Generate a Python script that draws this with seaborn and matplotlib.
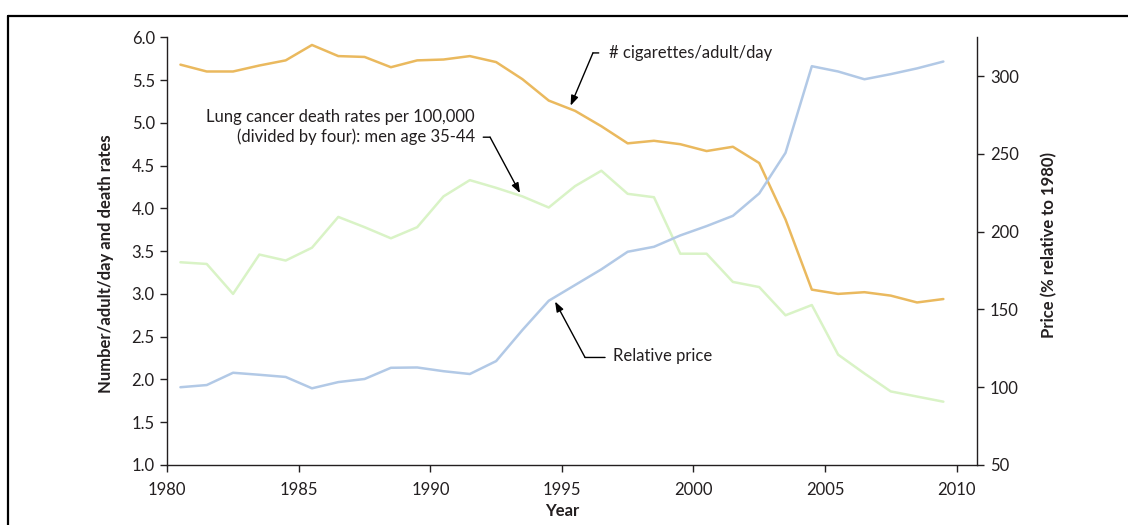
import matplotlib
matplotlib.use("Agg")
import matplotlib.pyplot as plt
from matplotlib.lines import Line2D
from matplotlib.ticker import FormatStrFormatter
import seaborn as sns
import pandas as pd

years = [1980.5, 1981.5, 1982.5, 1983.5, 1984.5, 1985.5, 1986.5, 1987.5, 1988.5, 1989.5,
         1990.5, 1991.5, 1992.5, 1993.5, 1994.5, 1995.5, 1996.5, 1997.5, 1998.5, 1999.5,
         2000.5, 2001.5, 2002.5, 2003.5, 2004.5, 2005.5, 2006.5, 2007.5, 2008.5, 2009.5]
cigarettes = [5.68, 5.60, 5.60, 5.67, 5.73, 5.91, 5.78, 5.77, 5.65, 5.73,
              5.74, 5.78, 5.71, 5.51, 5.26, 5.14, 4.96, 4.76, 4.79, 4.75,
              4.67, 4.72, 4.53, 3.87, 3.05, 3.00, 3.02, 2.98, 2.90, 2.94]
lung_cancer = [3.37, 3.35, 3.00, 3.46, 3.39, 3.54, 3.90, 3.78, 3.65, 3.78,
               4.14, 4.33, 4.24, 4.14, 4.01, 4.26, 4.44, 4.17, 4.13, 3.47,
               3.47, 3.14, 3.08, 2.75, 2.87, 2.29, 2.07, 1.86, 1.80, 1.74]
price = [100.0, 101.4, 109.3, 108.0, 106.6, 99.3, 103.3, 105.3, 112.5, 112.7,
         110.3, 108.5, 116.8, 136.8, 155.6, 165.7, 175.8, 187.1, 190.3, 197.6,
         203.6, 210.2, 224.6, 250.7, 306.4, 303.0, 298.0, 301.3, 305.0, 309.4]

x_ticks = [1980, 1985, 1990, 1995, 2000, 2005, 2010]
left_ticks = [1.0, 1.5, 2.0, 2.5, 3.0, 3.5, 4.0, 4.5, 5.0, 5.5, 6.0]
right_ticks = [50, 100, 150, 200, 250, 300]

label_cig = "# cigarettes/adult/day"
label_lung = "Lung cancer death rates per 100,000\n(divided by four): men age 35-44"
label_price = "Relative price"

df = pd.DataFrame({"year": years, "cig": cigarettes, "lung": lung_cancer, "price": price})

sns.set_style("ticks")
plt.rcParams["font.family"] = ["Lato", "DejaVu Sans"]
text_color = "#231F20"
plt.rcParams["text.color"] = text_color
plt.rcParams["axes.labelcolor"] = text_color
plt.rcParams["xtick.color"] = text_color
plt.rcParams["ytick.color"] = text_color

FS = 12
ORANGE = "#EAB95E"
GREEN = "#D9F3C6"
BLUE = "#B2C9E6"

fig = plt.figure(figsize=(11.28, 5.25), dpi=100)
ax = fig.add_axes([0.1483, 0.1143, 0.8664 - 0.1483, 0.929 - 0.1143])
ax2 = ax.twinx()

sns.lineplot(data=df, x="year", y="lung", ax=ax, color=GREEN, linewidth=1.8)
sns.lineplot(data=df, x="year", y="cig", ax=ax, color=ORANGE, linewidth=1.8)
sns.lineplot(data=df, x="year", y="price", ax=ax2, color=BLUE, linewidth=1.8)

ax.set_xlim(1980, 2010.79)
ax.set_ylim(1.0, 6.0)
ax2.set_ylim(50, 325)
ax.set_xticks(x_ticks)
ax.set_yticks(left_ticks)
ax2.set_yticks(right_ticks)
ax.yaxis.set_major_formatter(FormatStrFormatter("%.1f"))

for a in (ax, ax2):
    a.spines["top"].set_visible(False)
    for s in a.spines.values():
        s.set_color(text_color)
        s.set_linewidth(1.0)
    a.tick_params(direction="out", length=5, width=1.0, labelsize=FS, colors=text_color, pad=4)
ax.tick_params(axis="x", pad=7)
ax.spines["right"].set_visible(False)
ax2.spines["left"].set_visible(False)
ax2.spines["bottom"].set_visible(False)

ax.set_xlabel("Year", fontsize=FS, fontweight="bold")
ax.xaxis.set_label_coords(0.487, -0.09)
ax.set_ylabel("Number/adult/day and death rates", fontsize=FS, fontweight="bold")
ax.yaxis.set_label_coords(-0.066, 0.47)
ax2.set_ylabel("Price (% relative to 1980)", fontsize=FS, fontweight="bold")
ax2.yaxis.set_label_coords(1.079, 0.514)

arrow_kw = dict(arrowstyle="-|>,head_length=0.6,head_width=0.22", color="black", lw=1.0,
                shrinkA=0, shrinkB=0)
line_kw = dict(arrowstyle="-", color="black", lw=1.0, shrinkA=0, shrinkB=0)

# cigarettes annotation
ax.text(1996.79, 5.817, label_cig, fontsize=FS, ha="left", va="center")
ax.annotate("", xy=(1996.18, 5.817), xytext=(1996.40, 5.817), arrowprops=line_kw)
ax.annotate("", xy=(1995.33, 5.20), xytext=(1996.18, 5.817), arrowprops=arrow_kw)

# lung cancer annotation
ax.text(1991.70, 4.946, label_lung, fontsize=FS, ha="right", va="center", multialignment="right",
        linespacing=1.25)
ax.annotate("", xy=(1992.27, 4.832), xytext=(1992.01, 4.832), arrowprops=line_kw)
ax.annotate("", xy=(1993.41, 4.178), xytext=(1992.27, 4.832), arrowprops=arrow_kw)

# relative price annotation
ax.text(1996.93, 2.269, label_price, fontsize=FS, ha="left", va="center")
ax.annotate("", xy=(1995.88, 2.257), xytext=(1996.64, 2.257), arrowprops=line_kw)
ax.annotate("", xy=(1994.74, 2.911), xytext=(1995.88, 2.257), arrowprops=arrow_kw)

# figure frame (top and left)
fig.add_artist(Line2D([0.0074, 1.0], [0.970, 0.970], transform=fig.transFigure, color="black", lw=1.6))
fig.add_artist(Line2D([0.0074, 0.0074], [0.0, 0.970], transform=fig.transFigure, color="black", lw=1.6))

fig.savefig("out.png", dpi=100)
